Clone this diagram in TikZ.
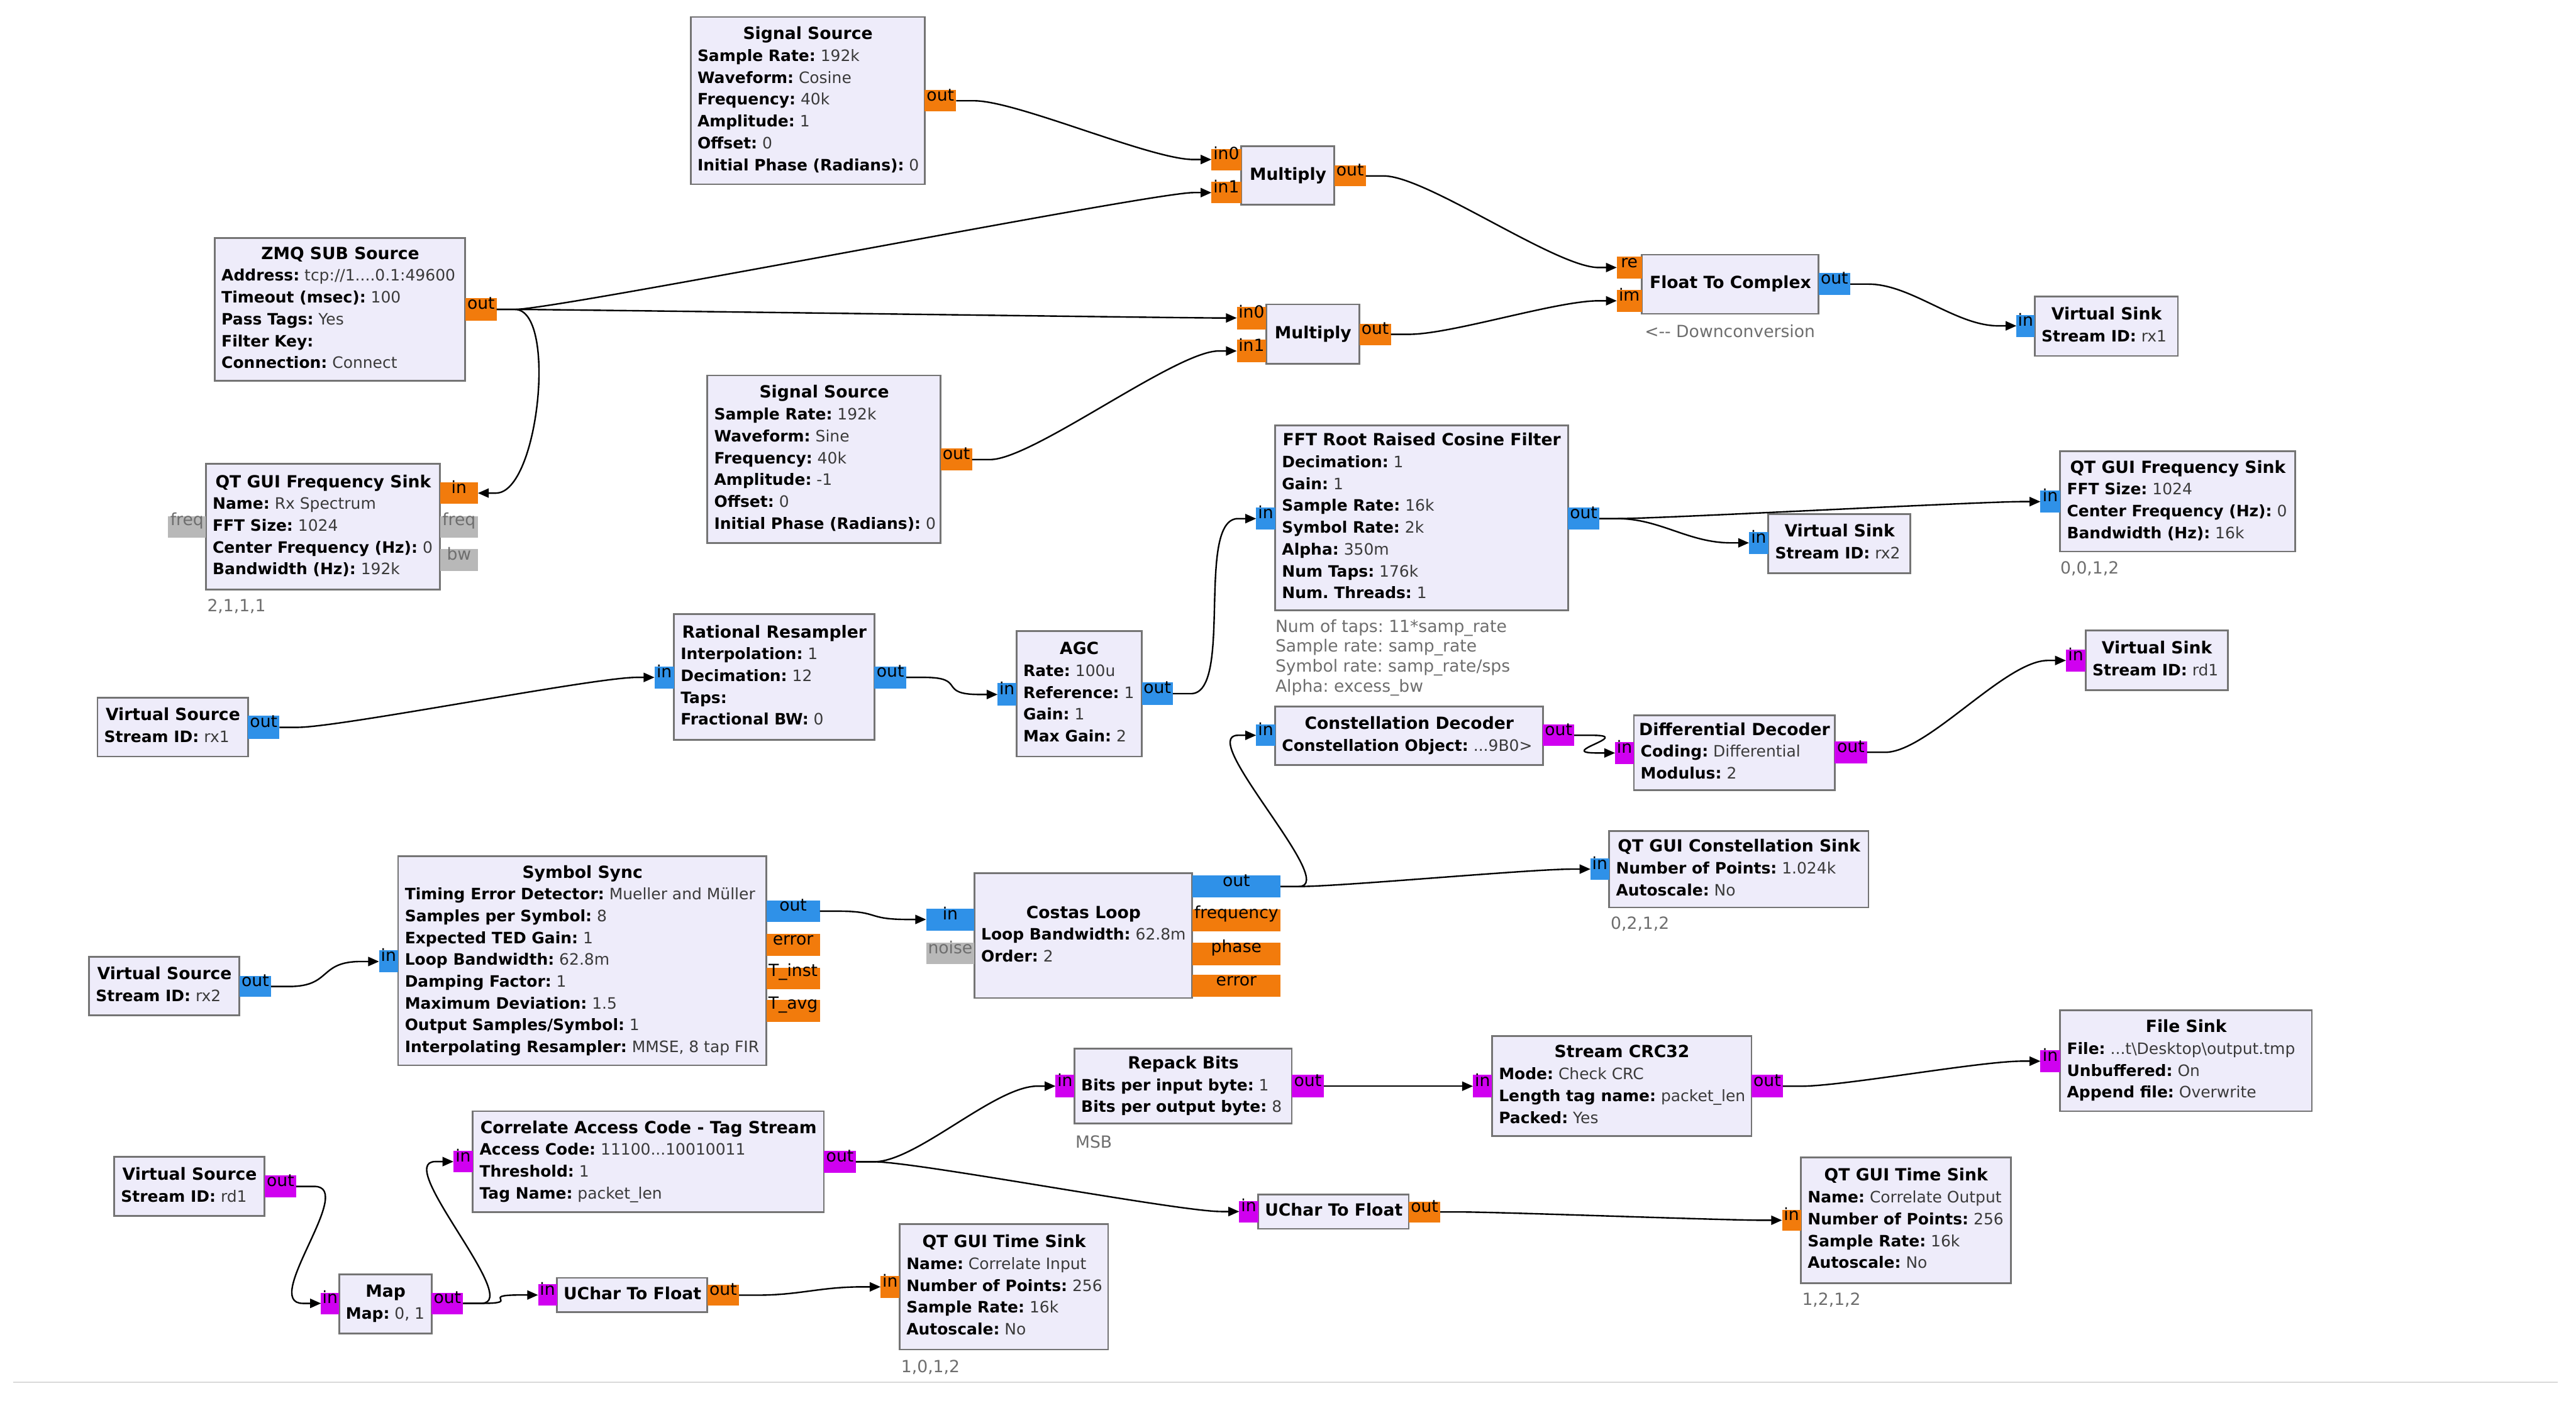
\documentclass[tikz,border=0pt]{standalone}
\usepackage{fontspec}
\setmainfont{DejaVu Sans}
\definecolor{BlockFill}{HTML}{EEECFA}
\definecolor{BlockEdge}{HTML}{747474}
\definecolor{FloatPort}{HTML}{F27B0C}
\definecolor{ComplexPort}{HTML}{2F91E8}
\definecolor{BytePort}{HTML}{D000F0}
\definecolor{MsgPort}{HTML}{B8B8B8}
\definecolor{ValueGray}{HTML}{3A3A3A}
\definecolor{NoteGray}{HTML}{6E6E6E}
\usetikzlibrary{positioning,calc,fit,arrows.meta}
\setlength{\parindent}{0pt}
\frenchspacing

\tikzset{
  grblk/.style={draw=BlockEdge, fill=BlockFill, line width=1.5pt, inner sep=0pt, outer sep=0pt},
  grtxt/.style={inner sep=0pt, anchor=west, align=left,
    font=\fontsize{13.6pt}{18.9pt}\selectfont},
  grport/.style={inner sep=0pt, outer sep=0pt, text height=10pt, text depth=3pt,
    font=\fontsize{14.5pt}{18.9pt}\selectfont},
  fport/.style={grport, fill=FloatPort},
  cport/.style={grport, fill=ComplexPort},
  bport/.style={grport, fill=BytePort},
  mport/.style={grport, fill=MsgPort, text=NoteGray},
  note/.style={text=NoteGray, inner sep=0pt, anchor=west, align=left,
    font=\fontsize{14.5pt}{17.4pt}\selectfont},
  wire/.style={draw=black, line width=1.3pt, line join=round,
    -{Triangle[length=0.33cm,width=0.28cm]}}
}

\newcommand\titlefont{\fontsize{14.5pt}{18.9pt}\selectfont\bfseries}
\newcommand\ttl[1]{\makebox[\grtw cm][c]{\strut\titlefont #1}}
\newcommand\kv[2]{\strut\textbf{#1:} \textcolor{ValueGray}{#2}}
%% block: name, x1, y1, x2, y2, body
\newcommand\grblock[6]{%
  \pgfmathsetmacro\grtw{(#4-#2-8)*0.05}%
  \node[grblk, fit={(#2,#3) (#4,#5)}] (#1) {};
  \node[grtxt] (#1-txt) at ({#2+4},{(#3+#5)/2}) {#6};}
%% port: name, style, x1, y1, x2, y2, label
\newcommand\grport[7]{\node[#2, fit={(#3,#4) (#5,#6)}] (#1) {#7};}
%% connection from an output port to an input port
\newcommand\grwire[2]{%
  \draw[wire] (#1.east) -- ++(11,0)
    .. controls ($(#1.east)+(37,0)$) and ($(#2.west)+(-37,0)$) .. ($(#2.west)+(-11,0)$)
    -- (#2.west);}

\begin{document}
\begin{tikzpicture}[x=0.05cm, y=-0.05cm]
  \fill[white] (0,0) rectangle (1568,854);
  \useasboundingbox (0,0) rectangle (1568,854);

  %% downconversion
  \grblock{sigcos}{420.4}{10.3}{562.8}{112.2}{\ttl{Signal Source}\\\kv{Sample Rate}{192k}\\\kv{Waveform}{Cosine}\\\kv{Frequency}{40k}\\\kv{Amplitude}{1}\\\kv{Offset}{0}\\\kv{Initial Phase (Radians)}{0}}
  \grport{sigcos-out}{fport}{562.8}{54.8}{582}{67.9}{out}

  \grblock{zmq}{130.7}{144.8}{283.2}{231.9}{\ttl{ZMQ SUB Source}\\\kv{Address}{tcp://1....0.1:49600}\\\kv{Timeout (msec)}{100}\\\kv{Pass Tags}{Yes}\\\kv{Filter Key}{}\\\kv{Connection}{Connect}}
  \grport{zmq-out}{fport}{283.2}{181.6}{302.4}{195.1}{out}

  \grblock{mula}{755.5}{89.1}{812.2}{124.6}{\ttl{Multiply}}
  \grport{mula-in0}{fport}{737.4}{90.6}{755.5}{103.6}{in0}
  \grport{mula-in1}{fport}{737.4}{110.7}{755.5}{123.8}{in1}
  \grport{mula-out}{fport}{812.2}{100.7}{831.3}{113.5}{out}

  \grblock{mulb}{770.7}{185.3}{827.5}{221.4}{\ttl{Multiply}}
  \grport{mulb-in0}{fport}{752.8}{186.7}{770.7}{200.4}{in0}
  \grport{mulb-in1}{fport}{752.8}{206.9}{770.7}{220.4}{in1}
  \grport{mulb-out}{fport}{827.5}{197}{846.6}{210}{out}

  \grblock{f2c}{999.4}{155}{1106.9}{191}{\ttl{Float To Complex}}
  \grport{f2c-re}{fport}{984.1}{156.3}{999.4}{169.4}{re}
  \grport{f2c-im}{fport}{984.1}{176.5}{999.4}{189.7}{im}
  \grport{f2c-out}{cport}{1106.9}{166.2}{1126.3}{179.7}{out}
  \node[note] (f2c-note) at (1001,201.7) {<-{}- Downconversion};

  \grblock{vsnkrx1}{1238.5}{180.5}{1325.7}{216.7}{\ttl{Virtual Sink}\\\kv{Stream ID}{rx1}}
  \grport{vsnkrx1-in}{cport}{1227.4}{191.7}{1238.5}{205}{in}

  \grblock{sigsin}{430.6}{228.5}{572.5}{330.5}{\ttl{Signal Source}\\\kv{Sample Rate}{192k}\\\kv{Waveform}{Sine}\\\kv{Frequency}{40k}\\\kv{Amplitude}{-1}\\\kv{Offset}{0}\\\kv{Initial Phase (Radians)}{0}}
  \grport{sigsin-out}{fport}{572.5}{273}{591.7}{286.5}{out}

  \grblock{qtfa}{125.3}{282.2}{267.9}{359}{\ttl{QT GUI Frequency Sink}\\\kv{Name}{Rx Spectrum}\\\kv{FFT Size}{1024}\\\kv{Center Frequency (Hz)}{0}\\\kv{Bandwidth (Hz)}{192k}}
  \grport{qtfa-in}{fport}{267.9}{293.5}{290.9}{306.8}{in}
  \grport{qtfa-freq}{mport}{267.9}{314.2}{290.9}{327.3}{freq}
  \grport{qtfa-bw}{mport}{267.9}{334}{290.9}{347.7}{bw}
  \grport{qtfa-freqin}{mport}{102.3}{314.2}{125.3}{327.3}{freq}
  \node[note] (qtfa-note) at (126,369) {2,1,1,1};

  %% receive chain rx1
  \grblock{vsrcrx1}{59.3}{424.7}{150.9}{460.5}{\ttl{Virtual Source}\\\kv{Stream ID}{rx1}}
  \grport{vsrcrx1-out}{cport}{150.9}{435.8}{170.1}{449.7}{out}

  \grblock{ratres}{410.2}{373.9}{532.2}{450.3}{\ttl{Rational Resampler}\\\kv{Interpolation}{1}\\\kv{Decimation}{12}\\\kv{Taps}{}\\\kv{Fractional BW}{0}}
  \grport{ratres-in}{cport}{398.4}{405.7}{410.2}{419}{in}
  \grport{ratres-out}{cport}{532.2}{405.7}{551.7}{419}{out}

  \grblock{agc}{618.7}{384.2}{695}{460.5}{\ttl{AGC}\\\kv{Rate}{100u}\\\kv{Reference}{1}\\\kv{Gain}{1}\\\kv{Max Gain}{2}}
  \grport{agc-in}{cport}{607.2}{415.9}{618.7}{429.6}{in}
  \grport{agc-out}{cport}{695}{415.3}{713.9}{429.2}{out}

  \grblock{rrc}{776.2}{258.9}{954.4}{371.5}{\ttl{FFT Root Raised Cosine Filter}\\\kv{Decimation}{1}\\\kv{Gain}{1}\\\kv{Sample Rate}{16k}\\\kv{Symbol Rate}{2k}\\\kv{Alpha}{350m}\\\kv{Num Taps}{176k}\\\kv{Num. Threads}{1}}
  \grport{rrc-in}{cport}{764.6}{309}{776.2}{322.4}{in}
  \grport{rrc-out}{cport}{954.4}{309}{973.5}{322.4}{out}
  \node[note] (rrc-note) at (776.2,400.4) {Num of taps: 11*samp\_rate\\Sample rate: samp\_rate\\Symbol rate: samp\_rate/sps\\Alpha: excess\_bw};

  \grblock{vsnkrx2}{1076.4}{313}{1162.9}{348.8}{\ttl{Virtual Sink}\\\kv{Stream ID}{rx2}}
  \grport{vsnkrx2-in}{cport}{1064.6}{323.8}{1076.4}{337.1}{in}

  \grblock{qtfb}{1254}{274.7}{1397}{335.7}{\ttl{QT GUI Frequency Sink}\\\kv{FFT Size}{1024}\\\kv{Center Frequency (Hz)}{0}\\\kv{Bandwidth (Hz)}{16k}}
  \grport{qtfb-in}{cport}{1242}{298.6}{1254}{312.1}{in}
  \node[note] (qtfb-note) at (1254,346.3) {0,0,1,2};

  %% demodulation rx2
  \grblock{vsrcrx2}{54.2}{582.5}{145.8}{618}{\ttl{Virtual Source}\\\kv{Stream ID}{rx2}}
  \grport{vsrcrx2-out}{cport}{145.8}{594.3}{165}{606.7}{out}

  \grblock{symsync}{242.3}{521.3}{466.5}{648.5}{\ttl{Symbol Sync}\\\kv{Timing Error Detector}{Mueller and Müller}\\\kv{Samples per Symbol}{8}\\\kv{Expected TED Gain}{1}\\\kv{Loop Bandwidth}{62.8m}\\\kv{Damping Factor}{1}\\\kv{Maximum Deviation}{1.5}\\\kv{Output Samples/Symbol}{1}\\\kv{Interpolating Resampler}{MMSE, 8 tap FIR}}
  \grport{symsync-in}{cport}{230.7}{578.6}{242.3}{592}{in}
  \grport{symsync-out}{cport}{466.5}{548}{499}{561.3}{out}
  \grport{symsync-err}{fport}{466.5}{568.4}{499}{581.7}{error}
  \grport{symsync-tinst}{fport}{466.5}{589}{499}{602}{T\_inst}
  \grport{symsync-tavg}{fport}{466.5}{608.7}{499}{622}{T\_avg}

  \grblock{costas}{593.1}{531.6}{725.7}{607.5}{\ttl{Costas Loop}\\\kv{Loop Bandwidth}{62.8m}\\\kv{Order}{2}}
  \grport{costas-in}{cport}{563.7}{553}{593.1}{566.4}{in}
  \grport{costas-noise}{mport}{563.7}{574}{593.1}{587}{noise}
  \grport{costas-out}{cport}{725.7}{533}{779.4}{546.3}{out}
  \grport{costas-freq}{fport}{725.7}{553.5}{779.4}{566.8}{frequency}
  \grport{costas-phase}{fport}{725.7}{574}{779.4}{587.5}{phase}
  \grport{costas-err}{fport}{725.7}{593.5}{779.4}{606.7}{error}

  \grblock{cdec}{776.2}{430.2}{939.1}{465.6}{\ttl{Constellation Decoder}\\\kv{Constellation Object}{...9B0>}}
  \grport{cdec-in}{cport}{764.6}{441}{776.2}{454.2}{in}
  \grport{cdec-out}{bport}{939.1}{441}{958.2}{454.2}{out}

  \grblock{ddec}{994.5}{435.4}{1116.8}{481}{\ttl{Differential Decoder}\\\kv{Coding}{Differential}\\\kv{Modulus}{2}}
  \grport{ddec-in}{bport}{983.1}{451.7}{994.5}{465}{in}
  \grport{ddec-out}{bport}{1116.8}{451.3}{1136.4}{464.6}{out}

  \grblock{vsnkrd1}{1269.5}{383.8}{1356}{420}{\ttl{Virtual Sink}\\\kv{Stream ID}{rd1}}
  \grport{vsnkrd1-in}{bport}{1257.5}{395.4}{1269.5}{408.7}{in}

  \grblock{qtcon}{979.5}{506}{1137.3}{552.4}{\ttl{QT GUI Constellation Sink}\\\kv{Number of Points}{1.024k}\\\kv{Autoscale}{No}}
  \grport{qtcon-in}{cport}{968.1}{522.4}{979.5}{535.7}{in}
  \node[note] (qtcon-note) at (980.3,562.3) {0,2,1,2};

  %% packet decoding rd1
  \grblock{vsrcrd1}{69.5}{704.3}{161.1}{740.2}{\ttl{Virtual Source}\\\kv{Stream ID}{rd1}}
  \grport{vsrcrd1-out}{bport}{161.1}{715.6}{180.3}{728.8}{out}

  \grblock{map}{206.4}{775.7}{262.7}{811.7}{\ttl{Map}\\\kv{Map}{0, 1}}
  \grport{map-in}{bport}{195.4}{786.9}{206.4}{799.9}{in}
  \grport{map-out}{bport}{262.7}{786.9}{281.9}{799.9}{out}

  \grblock{cac}{287.8}{676.4}{501.5}{737.8}{\ttl{Correlate Access Code - Tag Stream}\\\kv{Access Code}{11100...10010011}\\\kv{Threshold}{1}\\\kv{Tag Name}{packet\_len}}
  \grport{cac-in}{bport}{276}{700.6}{287.8}{713.6}{in}
  \grport{cac-out}{bport}{501.5}{700.4}{521}{714}{out}

  \grblock{ucfa}{339}{777.9}{430.6}{798.7}{\ttl{UChar To Float}}
  \grport{ucfa-in}{bport}{327.5}{781.8}{339}{794.8}{in}
  \grport{ucfa-out}{fport}{430.6}{782}{449.8}{794.8}{out}

  \grblock{qtta}{547.6}{745.2}{674.5}{821.5}{\ttl{QT GUI Time Sink}\\\kv{Name}{Correlate Input}\\\kv{Number of Points}{256}\\\kv{Sample Rate}{16k}\\\kv{Autoscale}{No}}
  \grport{qtta-in}{fport}{536}{776.6}{547.6}{790.1}{in}
  \node[note] (qtta-note) at (548.4,832.1) {1,0,1,2};

  \grblock{repack}{654}{638.3}{786.3}{684}{\ttl{Repack Bits}\\\kv{Bits per input byte}{1}\\\kv{Bits per output byte}{8}}
  \grport{repack-in}{bport}{642.5}{654.4}{654}{667.9}{in}
  \grport{repack-out}{bport}{786.3}{654.4}{805.8}{668}{out}
  \node[note] (repack-note) at (654.5,695) {MSB};

  \grblock{ucfb}{765.9}{727.1}{857.5}{748}{\ttl{UChar To Float}}
  \grport{ucfb-in}{bport}{754.3}{731}{765.9}{744}{in}
  \grport{ucfb-out}{fport}{857.5}{731.4}{876.7}{744.1}{out}

  \grblock{crc}{908.2}{630.7}{1066.1}{691.6}{\ttl{Stream CRC32}\\\kv{Mode}{Check CRC}\\\kv{Length tag name}{packet\_len}\\\kv{Packed}{Yes}}
  \grport{crc-in}{bport}{896.6}{654.4}{908.2}{668}{in}
  \grport{crc-out}{bport}{1066.1}{654.4}{1085.2}{668}{out}

  \grblock{fsink}{1254}{615.1}{1407.2}{676.4}{\ttl{File Sink}\\\kv{File}{...t\textbackslash Desktop\textbackslash output.tmp}\\\kv{Unbuffered}{On}\\\kv{Append file}{Overwrite}}
  \grport{fsink-in}{bport}{1242}{639.2}{1254}{652.7}{in}

  \grblock{qttb}{1096.2}{704.6}{1223.9}{781}{\ttl{QT GUI Time Sink}\\\kv{Name}{Correlate Output}\\\kv{Number of Points}{256}\\\kv{Sample Rate}{16k}\\\kv{Autoscale}{No}}
  \grport{qttb-in}{fport}{1084.7}{736.5}{1096.2}{749.1}{in}
  \node[note] (qttb-note) at (1096.8,791.4) {1,2,1,2};

  %% connections
  \grwire{sigcos-out}{mula-in0}
  \grwire{zmq-out}{mula-in1}
  \grwire{zmq-out}{mulb-in0}
  \draw[wire] (zmq-out.east) -- ++(11,0)
    .. controls ($(zmq-out.east)+(37,0)$) and ($(qtfa-in.east)+(37,0)$) .. ($(qtfa-in.east)+(11,0)$)
    -- (qtfa-in.east);
  \grwire{sigsin-out}{mulb-in1}
  \grwire{mula-out}{f2c-re}
  \grwire{mulb-out}{f2c-im}
  \grwire{f2c-out}{vsnkrx1-in}
  \grwire{vsrcrx1-out}{ratres-in}
  \grwire{ratres-out}{agc-in}
  \grwire{agc-out}{rrc-in}
  \grwire{rrc-out}{qtfb-in}
  \grwire{rrc-out}{vsnkrx2-in}
  \grwire{vsrcrx2-out}{symsync-in}
  \grwire{symsync-out}{costas-in}
  \grwire{costas-out}{cdec-in}
  \grwire{costas-out}{qtcon-in}
  \grwire{cdec-out}{ddec-in}
  \grwire{ddec-out}{vsnkrd1-in}
  \grwire{vsrcrd1-out}{map-in}
  \grwire{map-out}{cac-in}
  \grwire{map-out}{ucfa-in}
  \grwire{cac-out}{repack-in}
  \grwire{cac-out}{ucfb-in}
  \grwire{repack-out}{crc-in}
  \grwire{crc-out}{fsink-in}
  \grwire{ucfa-out}{qtta-in}
  \grwire{ucfb-out}{qttb-in}

  %% window edge
  \draw[black!15, line width=1pt] (8,841.4) -- (1557,841.4);
\end{tikzpicture}
\end{document}
